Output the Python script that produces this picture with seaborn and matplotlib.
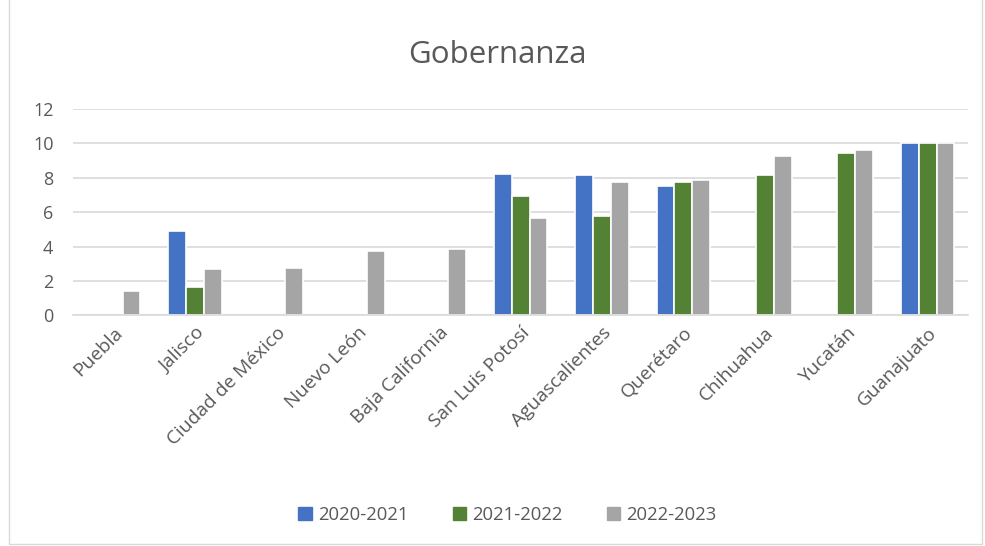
import numpy as np
import pandas as pd
import matplotlib
matplotlib.use("Agg")
import matplotlib.pyplot as plt
from matplotlib.patches import Rectangle
import seaborn as sns

estados = ["Puebla", "Jalisco", "Ciudad de México", "Nuevo León", "Baja California",
           "San Luis Potosí", "Aguascalientes", "Querétaro", "Chihuahua", "Yucatán", "Guanajuato"]
periodos = ["2020-2021", "2021-2022", "2022-2023"]
v_2020_2021 = [np.nan, 4.90, np.nan, np.nan, np.nan, 8.24, 8.16, 7.54, np.nan, np.nan, 10.0]
v_2021_2022 = [np.nan, 1.65, np.nan, np.nan, np.nan, 6.96, 5.79, 7.73, 8.14, 9.44, 10.0]
v_2022_2023 = [1.43, 2.71, 2.77, 3.76, 3.86, 5.68, 7.75, 7.89, 9.28, 9.59, 10.0]
colores = ["#4472C4", "#548235", "#A5A5A5"]

df = pd.DataFrame({"estado": estados * 3,
                   "periodo": np.repeat(periodos, len(estados)),
                   "valor": v_2020_2021 + v_2021_2022 + v_2022_2023}).dropna()

sns.set_theme(style="white")
plt.rcParams["font.family"] = ["Open Sans", "DejaVu Sans"]
texto = "#595959"

fig = plt.figure(figsize=(9.85, 5.46), dpi=100)
ax = fig.add_axes([0.074, 0.4225, 0.909, 0.378])

sns.barplot(data=df, x="estado", y="valor", hue="periodo", order=estados, hue_order=periodos,
            palette=colores, saturation=1, width=0.66, edgecolor="white", linewidth=1.2,
            ax=ax, legend=False)

ax.set_ylim(0, 12)
ax.set_yticks(range(0, 13, 2))
ax.set_xlim(-0.5, len(estados) - 0.5)
ax.yaxis.grid(True, color="#D9D9D9", linewidth=1.2)
ax.set_axisbelow(True)
for s in ["top", "right", "left"]:
    ax.spines[s].set_visible(False)
ax.spines["bottom"].set_color("#D9D9D9")
ax.spines["bottom"].set_linewidth(1.2)
ax.set_xlabel("")
ax.set_ylabel("")
ax.tick_params(axis="both", colors=texto, labelsize=13, length=0)
ax.tick_params(axis="x", labelsize=13.8, pad=6)
ax.tick_params(axis="y", pad=14)
plt.setp(ax.get_xticklabels(), rotation=45, ha="right", rotation_mode="anchor")

fig.text(0.505, 0.9, "Gobernanza", ha="center", va="center", fontsize=22.5, color=texto)

handles = [Rectangle((0, 0), 1, 1, color=c) for c in colores]
fig.legend(handles, periodos, loc="center", bbox_to_anchor=(0.515, 0.057), ncol=3, frameon=False,
           fontsize=13.3, labelcolor=texto, handlelength=0.75, handleheight=0.75,
           handletextpad=0.3, columnspacing=2.4)

fig.patches.append(Rectangle((0.009, 0.004), 0.988, 1.2, transform=fig.transFigure,
                             fill=False, edgecolor="#D9D9D9", linewidth=1))

fig.savefig("out.png", dpi=100)
plt.close(fig)
